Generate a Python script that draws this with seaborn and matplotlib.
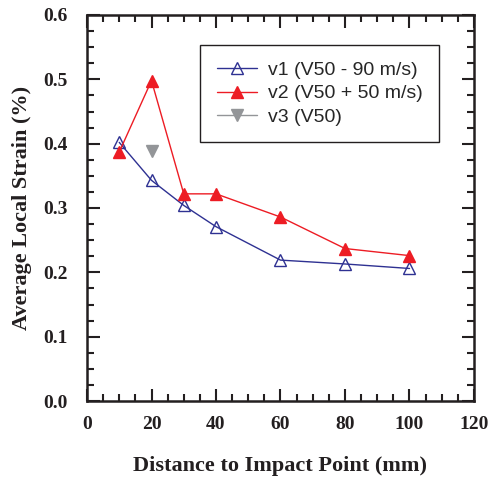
import matplotlib
matplotlib.use("Agg")
import matplotlib.pyplot as plt
import seaborn as sns
import pandas as pd
from matplotlib.ticker import MultipleLocator

sns.set_style("ticks")
plt.rcParams["font.family"] = ["Liberation Serif", "DejaVu Serif"]
plt.rcParams["font.weight"] = "bold"

dist_v1 = [10, 20, 30, 40, 60, 80, 100]
strain_v1 = [0.402, 0.343, 0.304, 0.271, 0.219, 0.213, 0.206]
dist_v2 = [10, 20, 30, 40, 60, 80, 100]
strain_v2 = [0.387, 0.498, 0.322, 0.322, 0.286, 0.237, 0.226]
dist_v3 = [20]
strain_v3 = [0.389]
labels = ["v1 (V50 - 90 m/s)", "v2 (V50 + 50 m/s)", "v3 (V50)"]

df = pd.concat([
    pd.DataFrame({"x": dist_v1, "y": strain_v1, "s": labels[0]}),
    pd.DataFrame({"x": dist_v2, "y": strain_v2, "s": labels[1]}),
    pd.DataFrame({"x": dist_v3, "y": strain_v3, "s": labels[2]}),
])

fig = plt.figure(figsize=(4.89, 4.79), dpi=100)
ax = fig.add_axes([87/489, 78/479, 387/489, 386/479])

colors = {labels[0]: "#2E3192", labels[1]: "#ED1C24", labels[2]: "#939598"}
styles = [
    dict(marker="^", mfc="none", mec=colors[labels[0]], mew=1.0),
    dict(marker="^", mfc=colors[labels[1]], mec=colors[labels[1]], mew=1.0),
    dict(marker="v", mfc=colors[labels[2]], mec=colors[labels[2]], mew=1.0),
]
for lab, st in zip(labels, styles):
    sub = df[df["s"] == lab]
    sns.lineplot(data=sub, x="x", y="y", ax=ax, color=colors[lab], lw=1.0,
                 markersize=9, label=lab, **st)

ax.set_xlim(0, 120)
ax.set_ylim(0, 0.6)
ax.xaxis.set_major_locator(MultipleLocator(20))
ax.xaxis.set_minor_locator(MultipleLocator(5))
ax.yaxis.set_major_locator(MultipleLocator(0.1))
ax.yaxis.set_minor_locator(MultipleLocator(0.025))
ax.yaxis.set_major_formatter(matplotlib.ticker.FormatStrFormatter("%.1f"))
ax.tick_params(which="both", direction="in", top=True, right=True, width=1.5,
               color="#231F20", labelcolor="#231F20", labelsize=14)
ax.tick_params(axis="x", which="major", length=9, pad=11)
ax.tick_params(axis="y", which="major", length=9, pad=14)
ax.tick_params(which="minor", length=5)
for sp in ax.spines.values():
    sp.set_linewidth(1.8)
    sp.set_color("#231F20")

ax.set_xlabel("Distance to Impact Point (mm)", fontsize=16, fontweight="bold", color="#231F20")
ax.set_ylabel("Average Local Strain (%)", fontsize=16, fontweight="bold", color="#231F20")
ax.xaxis.set_label_coords(0.5, -55/386)
ax.yaxis.set_label_coords(-55/387, 0.5)

leg = ax.legend(loc="upper left", bbox_to_anchor=(113/387, 1 - 30/386),
                borderaxespad=0, frameon=True, fancybox=False, framealpha=1,
                borderpad=0.85, prop=dict(family="Liberation Sans", size=14, weight="normal"),
                handlelength=2.1, labelspacing=0.29, handletextpad=0.55)
leg.get_frame().set_edgecolor("#231F20")
leg.get_frame().set_linewidth(1.0)

fig.savefig("out.png", dpi=100)
